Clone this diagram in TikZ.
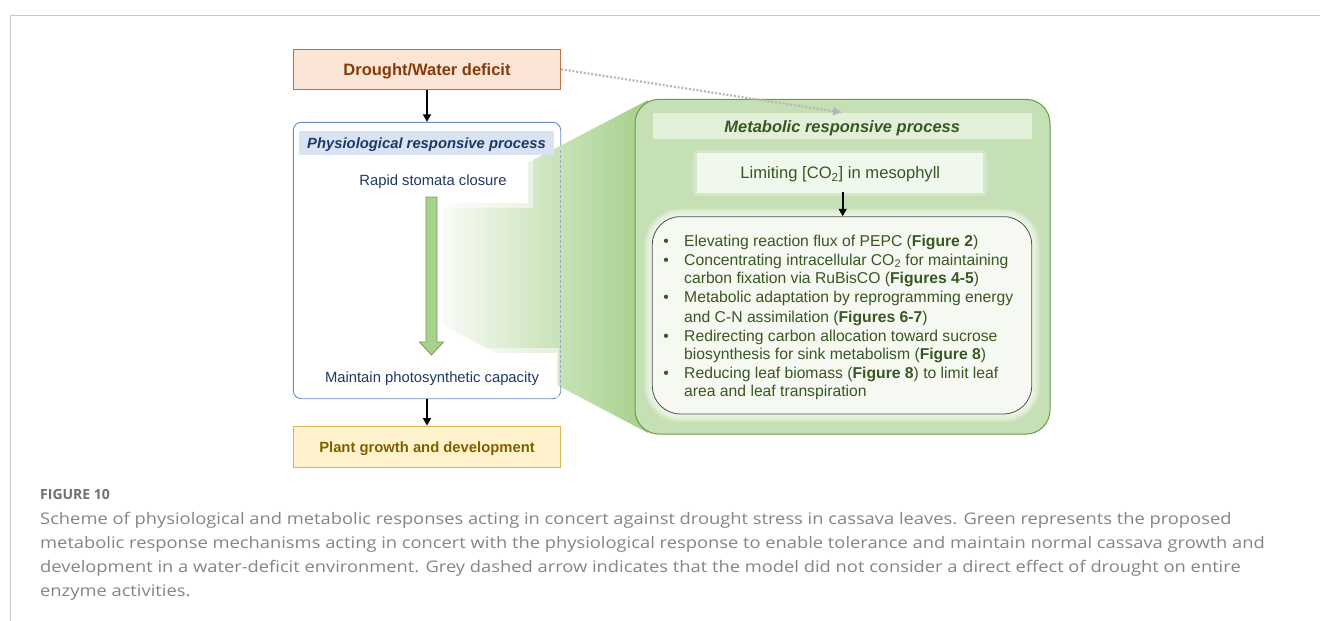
\documentclass[tikz,border=0pt]{standalone}
\usepackage{fontspec}
\setmainfont{Liberation Sans}
\newfontfamily\capfont[FakeStretch=1.145]{Open Sans}
\newfontfamily\capfontb{Open Sans}
\usetikzlibrary{arrows.meta}
\definecolor{framegray}{HTML}{C8C8C8}
\definecolor{droughtF}{HTML}{FBE5D6}
\definecolor{droughtB}{HTML}{C07048}
\definecolor{droughtT}{HTML}{843C0C}
\definecolor{physB}{HTML}{6D8CC3}
\definecolor{physH}{HTML}{DAE3F3}
\definecolor{physT}{HTML}{1F3864}
\definecolor{physBody}{HTML}{203864}
\definecolor{garF}{HTML}{A9D18E}
\definecolor{garB}{HTML}{6E9D4C}
\definecolor{trapG}{HTML}{A5CF89}
\definecolor{metF}{HTML}{C5E0B4}
\definecolor{metB}{HTML}{6C9A4B}
\definecolor{metH}{HTML}{E2F0D9}
\definecolor{metT}{HTML}{385723}
\definecolor{limF}{HTML}{F0F7EC}
\definecolor{bulF}{HTML}{F5F9F2}
\definecolor{bulB}{HTML}{505050}
\definecolor{plantF}{HTML}{FFF2CC}
\definecolor{plantB}{HTML}{D6B656}
\definecolor{plantT}{HTML}{7F6000}
\definecolor{capgray}{HTML}{858585}
\definecolor{capdark}{HTML}{707070}
\definecolor{dashgray}{HTML}{B8B8B8}
\begin{document}
\begin{tikzpicture}[x=1pt,y=-1pt,
  capc/.style={text height=#1, text depth=0pt, inner sep=0pt},
  arr/.style={-{Triangle[length=7.5pt,width=8pt]}, line width=1.6pt, black},
  physfont/.style={font=\fontsize{14.8}{17}\selectfont, text=physBody},
  bulfont/.style={font=\fontsize{15.7}{18}\selectfont, text=metT, inner sep=0pt},
  captext/.style={anchor=base west, inner sep=0pt, font=\capfont\fontsize{16}{20}\selectfont, text=capgray},
]
\useasboundingbox (0,0) rectangle (1320,621);
\fill[white] (0,0) rectangle (1320,621);
\draw[framegray, line width=1pt] (10,621) -- (10,15) -- (1320,15);

% physiological frame
\node[draw=physB, line width=0.9pt, rounded corners=8pt, minimum width=267.4pt, minimum height=276.4pt, inner sep=0pt] (phys) at (427,260.5) {};

% zoom trapezoid
\shade[left color=trapG!8, right color=trapG] (443,207) -- (648,100) -- (648,433) -- (443,325) -- cycle;
\draw[physB!75, line width=0.6pt, dash pattern=on 3pt off 2pt] (560.7,150) -- (560.7,392);

% header
\node[capc=10.6pt, fill=physH, minimum width=255pt, minimum height=24pt, font=\bfseries\itshape\fontsize{14.8}{17}\selectfont, text=physT] (physhead) at (426.5,143) {Physiological responsive process};

% rapid stomata closure
\fill[white, opacity=0.5] (343,155) rectangle (533,208);
\node[fill=white, minimum width=180pt, minimum height=43pt, inner sep=0pt] (rapidbg) at (438,181.5) {};
\node[capc=10.6pt, physfont] (rapid) at (433,180) {Rapid stomata closure};

% maintain
\fill[white, opacity=0.5] (300,348) rectangle (559,398);
\node[fill=white, minimum width=252pt, minimum height=43pt, inner sep=0pt] (maintbg) at (431,374.5) {};
\node[capc=10.6pt, physfont] (maint) at (432,376.7) {Maintain photosynthetic capacity};

% green block arrow
\draw[garB, fill=garF, line width=0.8pt] (426,197) -- (437,197) -- (437,342) -- (443.5,342) -- (431.5,355) -- (419.5,342) -- (426,342) -- cycle;

% drought
\node[capc=11.8pt, draw=droughtB, line width=0.9pt, fill=droughtF, minimum width=267.4pt, minimum height=40pt, font=\bfseries\fontsize{16.5}{20}\selectfont, text=droughtT] (drought) at (427,69.3) {Drought/Water deficit};
\draw[arr] (drought.south) -- (phys.north);

% plant
\node[capc=10.6pt, draw=plantB, line width=0.9pt, fill=plantF, minimum width=267.4pt, minimum height=41.3pt, font=\bfseries\fontsize{14.8}{17}\selectfont, text=plantT] (plant) at (427,446.7) {Plant growth and development};
\draw[arr] (phys.south) -- (plant.north);

% metabolic box
\node[draw=metB, line width=1pt, fill=metF, rounded corners=24pt, minimum width=415pt, minimum height=334.7pt, inner sep=0pt] (met) at (842.5,266.7) {};
\node[capc=11.8pt, fill=metH, minimum width=379pt, minimum height=26pt, font=\bfseries\itshape\fontsize{16.5}{20}\selectfont, text=metT] (methead) at (842.2,126.3) {Metabolic responsive process};

% limiting
\fill[limF, opacity=0.35, rounded corners=5pt] (693,150) rectangle (987,196);
\node[capc=11.9pt, fill=limF, minimum width=286pt, minimum height=40pt, font=\fontsize{16.6}{20}\selectfont, text=metT] (lim) at (840.3,173) {Limiting [CO\textsubscript{2}] in mesophyll};

% bullet box with glow
\foreach \g in {8,6,4,2}{
  \fill[white, opacity=0.25, rounded corners=28pt+\g pt] (652.3-\g,216.7-\g) rectangle (1031.7+\g,414+\g);
}
\node[draw=bulB, line width=0.8pt, fill=bulF, rounded corners=28pt, minimum width=379.4pt, minimum height=197.3pt, inner sep=0pt] (bul) at (842,315.3) {};
\coordinate (limarr) at (842.7,192);
\draw[arr] (limarr) -- (bul.north -| limarr);

\foreach \yy/\b/\t in {
  240.7/1/{Elevating reaction flux of PEPC (\textbf{Figure 2})},
  259.5/1/{Concentrating intracellular CO\textsubscript{2} for maintaining},
  278.3/0/{carbon fixation via RuBisCO (\textbf{Figures 4-5})},
  297.3/1/{Metabolic adaptation by reprogramming energy},
  316.5/0/{and C-N assimilation (\textbf{Figures 6-7})},
  335.5/1/{Redirecting carbon allocation toward sucrose},
  354.3/0/{biosynthesis for sink metabolism (\textbf{Figure 8})},
  372.7/1/{Reducing leaf biomass (\textbf{Figure 8}) to limit leaf},
  390.5/0/{area and leaf transpiration}}{
  \node[bulfont, anchor=base west] at (684,\yy+5.6) {\t};
  \ifnum\b=1 \node[bulfont, anchor=base] at (666,\yy+5.6) {•};\fi
}

% grey dashed arrow
\coordinate (dashend) at (842,112.5);
\draw[dashgray, line width=2.2pt, dash pattern=on 2pt off 1.8pt, -{Triangle[length=9pt,width=8pt]}] (drought.east) -- (dashend);

% caption
\node[anchor=base west, inner sep=0pt, font=\capfontb\bfseries\fontsize{14}{17}\selectfont, text=capdark] (fig) at (40,499) {FIGURE 10};
\node[captext] (c1) at (40,524.7) {Scheme of physiological and metabolic responses acting in concert against drought stress in cassava leaves. Green represents the proposed};
\node[captext] (c2) at (40,548.7) {metabolic response mechanisms acting in concert with the physiological response to enable tolerance and maintain normal cassava growth and};
\node[captext] (c3) at (40,572.7) {development in a water-deficit environment. Grey dashed arrow indicates that the model did not consider a direct effect of drought on entire};
\node[captext] (c4) at (40,596.7) {enzyme activities.};
\end{tikzpicture}
\end{document}
